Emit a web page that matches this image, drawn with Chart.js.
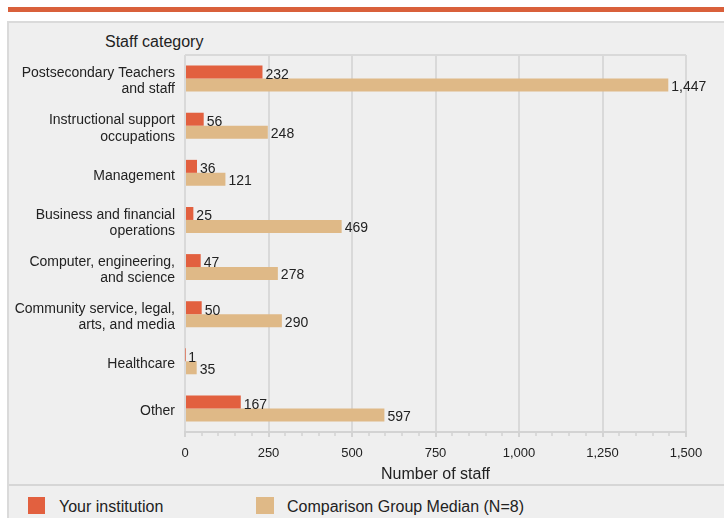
<!DOCTYPE html>
<html>
<head>
<meta charset="utf-8">
<script src="https://cdn.jsdelivr.net/npm/chart.js@4"></script>
<style>
  body { margin: 0; background: #fff; font-family: 'Liberation Sans', Arial, sans-serif; color: #222; }
  #wrap { position: relative; width: 724px; height: 518px; overflow: hidden; }
  .stripe { position: absolute; left: 8px; top: 7px; right: 0; height: 5px; background: #d9603b; }
  .panel { position: absolute; left: 7px; top: 21px; right: -4px; bottom: -4px; background: #efefef;
           border-left: 2px solid #dadada; border-top: 2px solid #dadada; }
  .sep { position: absolute; left: 9px; right: 0; top: 484px; height: 2px; background: #d6d6d6; }
  #chart { position: absolute; left: 8px; top: 22px; }
  .txt { position: absolute; font-size: 16px; line-height: 18px; white-space: nowrap; color: #222; }
  .box { position: absolute; width: 17px; height: 17px; top: 497px; }
</style>
</head>
<body>
<div id="wrap">
  <div class="stripe"></div>
  <div class="panel"></div>
  <div class="sep"></div>
  <div class="txt" style="left:105px; top:33px;">Staff category</div>
  <canvas id="chart" width="716" height="463"></canvas>
  <div class="box" style="left:28px; background:#e2603f;"></div>
  <div class="txt" style="left:59px; top:498px;">Your institution</div>
  <div class="box" style="left:256px; width:18px; background:#dfb987;"></div>
  <div class="txt" style="left:287px; top:498px;">Comparison Group Median (N=8)</div>
</div>
<script>
// 数据
const categories = [
  ['Postsecondary Teachers', 'and staff'],
  ['Instructional support', 'occupations'],
  'Management',
  ['Business and financial', 'operations'],
  ['Computer, engineering,', 'and science'],
  ['Community service, legal,', 'arts, and media'],
  'Healthcare',
  'Other'
];
const yourInstitution = [232, 56, 36, 25, 47, 50, 1, 167];
const groupMedian = [1447, 248, 121, 469, 278, 290, 35, 597];
const xTicks = [0, 250, 500, 750, 1000, 1250, 1500];

Chart.defaults.font.family = "'Liberation Sans', Arial, sans-serif";
Chart.defaults.color = '#222';

// 数值标签 + 顶部边框 + 小刻度
const extras = {
  id: 'extras',
  beforeDatasetsDraw(chart) {
    const { ctx, chartArea } = chart;
    const x = chart.scales.x;
    ctx.save();
    ctx.strokeStyle = '#d9d9d9';
    ctx.lineWidth = 2;
    ctx.beginPath();
    ctx.moveTo(chartArea.left, chartArea.top);
    ctx.lineTo(chartArea.right, chartArea.top);
    ctx.stroke();
    // minor ticks
    ctx.strokeStyle = '#d3d3d3';
    ctx.lineWidth = 1.5;
    for (let v = 50; v < 1500; v += 50) {
      if (v % 250 === 0) continue;
      const px = Math.round(x.getPixelForValue(v));
      ctx.beginPath();
      ctx.moveTo(px, chartArea.bottom);
      ctx.lineTo(px, chartArea.bottom + 4);
      ctx.stroke();
    }
    ctx.restore();
  },
  afterDatasetsDraw(chart) {
    const ctx = chart.ctx;
    ctx.save();
    ctx.font = "14px 'Liberation Sans', Arial, sans-serif";
    ctx.fillStyle = '#222';
    ctx.textAlign = 'left';
    ctx.textBaseline = 'middle';
    chart.data.datasets.forEach((ds, i) => {
      chart.getDatasetMeta(i).data.forEach((bar, j) => {
        ctx.fillText(ds.data[j].toLocaleString('en-US'), bar.x + 3, bar.y + (i === 0 ? 3 : 2));
      });
    });
    ctx.restore();
  }
};

const ctx = document.getElementById('chart').getContext('2d');
new Chart(ctx, {
  type: 'bar',
  data: {
    labels: categories,
    datasets: [
      { label: 'Your institution', data: yourInstitution, backgroundColor: '#e2603f' },
      { label: 'Comparison Group Median (N=8)', data: groupMedian, backgroundColor: '#dfb987' }
    ]
  },
  options: {
    indexAxis: 'y',
    responsive: false,
    animation: false,
    categoryPercentage: 0.55,
    barPercentage: 1.0,
    layout: { padding: { top: 33, right: 38, left: 0, bottom: 0 } },
    plugins: {
      legend: { display: false },
      tooltip: { enabled: false }
    },
    scales: {
      x: {
        min: 0,
        max: 1500,
        afterBuildTicks(scale) {
          scale.ticks = xTicks.map(v => ({ value: v }));
        },
        afterFit(scale) { scale.height = 53; },
        grid: { color: '#d9d9d9', lineWidth: 2, drawTicks: true, tickLength: 5, tickColor: '#d3d3d3' },
        border: { display: true, color: '#d3d3d3', width: 2 },
        ticks: {
          padding: 9,
          font: { size: 13 },
          color: '#222',
          maxRotation: 0,
          callback: v => v.toLocaleString('en-US')
        },
        title: {
          display: true,
          text: 'Number of staff',
          font: { size: 16 },
          color: '#222',
          padding: { top: 0, bottom: 1 }
        }
      },
      y: {
        afterFit(scale) { scale.width = 177; },
        grid: { display: false, drawTicks: false },
        border: { display: false },
        ticks: {
          padding: 10,
          labelOffset: 3,
          font: { size: 14, lineHeight: 1.15 },
          color: '#222'
        }
      }
    }
  },
  plugins: [extras]
});
</script>
</body>
</html>
